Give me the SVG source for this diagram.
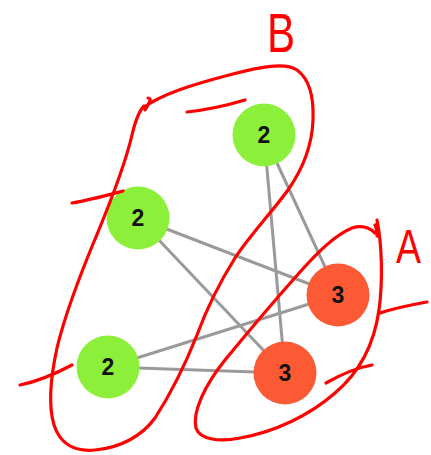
<svg xmlns="http://www.w3.org/2000/svg" width="431" height="455" viewBox="0 0 431 455">
<style>
.edge{stroke:#9a9a9a;stroke-width:3;fill:none}
.g{fill:#8cf03a}
.r{fill:#fc5a35}
.lbl{font-family:"Liberation Sans",Arial,sans-serif;font-weight:bold;font-size:23px;fill:#111111;text-anchor:middle;dominant-baseline:central}
.ink{stroke:#ff0000;stroke-width:3.2;fill:none;stroke-linecap:round;stroke-linejoin:round}
.hand{font-family:"Liberation Sans",Arial,sans-serif;fill:#ff0000}
</style>
<rect width="431" height="455" fill="#ffffff"/>
<g id="connectors">
<line class="edge" x1="264" y1="135" x2="338" y2="295"/>
<line class="edge" x1="264" y1="135" x2="285" y2="373"/>
<line class="edge" x1="138" y1="218" x2="338" y2="295"/>
<line class="edge" x1="138" y1="218" x2="285" y2="373"/>
<line class="edge" x1="108" y1="367" x2="338" y2="295"/>
<line class="edge" x1="108" y1="367" x2="285" y2="373"/>
</g>
<g id="n1"><circle class="g" cx="264" cy="135" r="31.5"/><text class="lbl" x="264" y="135">2</text></g>
<g id="n2"><circle class="g" cx="138" cy="218" r="31.5"/><text class="lbl" x="138" y="218">2</text></g>
<g id="n3"><circle class="g" cx="108" cy="367" r="31.5"/><text class="lbl" x="108" y="367">2</text></g>
<g id="n4"><circle class="r" cx="338" cy="295" r="31.5"/><text class="lbl" x="338" y="295">3</text></g>
<g id="n5"><circle class="r" cx="285" cy="373" r="31.5"/><text class="lbl" x="285" y="373">3</text></g>
<g id="annotations">
<path class="ink" d="M145,110 C150,102 152,98 148,98 M143,108 C160,95 190,85 233,74 C260,67 285,62 297,70 C308,78 314,95 313,120 C312,148 302,170 288,190 C272,212 250,235 235,258 C220,282 208,305 197,335 C185,365 170,395 155,418 C142,436 120,448 95,450 C75,452 60,444 54,425 C48,405 50,380 57,348 C66,310 82,270 98,232 C112,198 125,165 132,135 C136,118 140,110 144,106"/>
<path class="ink" d="M187,112 C205,110 225,106 245,100"/>
<path class="ink" d="M72,203 C90,200 108,195 123,191"/>
<path class="ink" d="M20,385 C35,382 55,374 72,365"/>
<path class="ink" d="M375,225 C376,228 378,232 377,236 M377,220 C382,245 383,280 379,310 C374,345 360,372 335,393 C310,415 275,432 240,438 C220,442 200,440 196,428 C192,412 205,385 225,360 C248,332 275,300 300,272 C318,252 335,235 352,228 C362,225 370,228 375,233"/>
<path class="ink" d="M380,313 C395,308 410,305 427,302"/>
<path class="ink" d="M326,383 C340,375 355,368 372,365"/>
<text class="hand" x="267" y="52" font-size="56" textLength="28" lengthAdjust="spacingAndGlyphs">B</text>
<text class="hand" x="396" y="263" font-size="48" textLength="25" lengthAdjust="spacingAndGlyphs">A</text>
</g>
</svg>
